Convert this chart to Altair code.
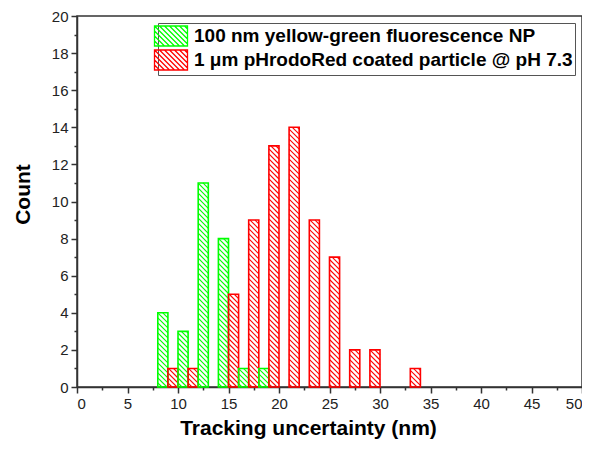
import altair as alt
import pandas as pd
import numpy as np

# ---- data ----
bin_left = [8, 10, 12, 14, 16, 18, 20, 22, 24, 26, 28, 30, 32]
green_counts = [4, 3, 11, 8, 1, 1, 0, 0, 0, 0, 0, 0, 0]
red_counts = [1, 1, 0, 5, 9, 13, 14, 9, 7, 2, 2, 0, 1]
series_names = ["100 nm yellow-green fluorescence NP",
                "1 \u03bcm pHrodoRed coated particle @ pH 7.3"]
series_colors = ["#00ff00", "#ff0000"]
x_tick_values = [i * 2.5 for i in range(21)]
y_tick_values = list(range(0, 21))

# ---- layout / style ----
W, H = 505, 371
X_MAX, Y_MAX = 50, 20
kx, ky = W / X_MAX, H / Y_MAX
HATCH = 5.0  # hatch spacing in px

rows = []
for left, g, r in zip(bin_left, green_counts, red_counts):
    for name, off, val in ((series_names[0], 0, g), (series_names[1], 1, r)):
        if val > 0:
            rows.append(dict(series=name, x0=left + off, x1=left + off + 1, count=val))
bars = pd.DataFrame(rows)

# hatch segments (45 deg, top-left to bottom-right) clipped to each bar
hatch_rows = []
for b in rows:
    u0, u1, h = b["x0"] * kx, b["x1"] * kx, b["count"] * ky
    c = np.floor(u0 / HATCH) * HATCH
    while c < u1 + h:
        us, ue = max(u0, c - h), min(u1, c)
        if ue - us > 0.6:
            hatch_rows.append(dict(series=b["series"],
                                   hx0=us / kx, hy0=(c - us) / ky,
                                   hx1=ue / kx, hy1=(c - ue) / ky))
        c += HATCH
hatch = pd.DataFrame(hatch_rows)

# legend symbol: hatched rectangle path
sx, sy, step = 1.65, 1.0, 0.5
parts = [f"M{-sx},{-sy}L{sx},{-sy}L{sx},{sy}L{-sx},{sy}Z"]
c = -sx - sy + step
while c < sx + sy:
    xs_, xe_ = max(-sx, c - sy), min(sx, c + sy)
    if xe_ - xs_ > 0.05:
        parts.append(f"M{xs_:.3f},{xs_ - c:.3f}L{xe_:.3f},{xe_ - c:.3f}")
    c += step
symbol_path = "".join(parts)

FONT = "Liberation Sans"
color_scale = alt.Scale(domain=series_names, range=series_colors)
xscale = alt.Scale(domain=[0, X_MAX], nice=False, zero=False)
yscale = alt.Scale(domain=[0, Y_MAX], nice=False, zero=False)

legend = alt.Legend(title=None, orient="top-right", offset=7,
                    symbolType=symbol_path, symbolSize=400, symbolStrokeWidth=1.3,
                    symbolFillColor="white",
                    labelFont=FONT, labelFontSize=19, labelFontWeight="bold",
                    labelColor="black", labelLimit=600, labelOffset=12,
                    strokeColor="#555", fillColor="white", padding=2, rowPadding=-3)

stroke_enc = alt.Stroke("series:N", scale=color_scale, legend=legend)

x_axis = alt.Axis(values=x_tick_values,
                  labelExpr="datum.value % 5 === 0 ? '' + datum.value : ''",
                  tickSize={"condition": {"test": "datum.value % 5 === 0", "value": 6}, "value": 3},
                  labelOverlap=False, grid=False, title="Tracking uncertainty (nm)",
                  titlePadding=6, titleX=231)
y_axis = alt.Axis(values=y_tick_values,
                  labelExpr="datum.value % 2 === 0 ? '' + datum.value : ''",
                  tickSize={"condition": {"test": "datum.value % 2 === 0", "value": 6}, "value": 3},
                  labelOverlap=False, grid=False, title="Count", titlePadding=18,
                  titleY=178)

hatch_layer = alt.Chart(hatch).mark_rule(strokeWidth=1.1).encode(
    x=alt.X("hx0:Q", scale=xscale, axis=x_axis),
    x2="hx1:Q",
    y=alt.Y("hy0:Q", scale=yscale, axis=y_axis),
    y2="hy1:Q",
    stroke=stroke_enc,
)

bar_layer = alt.Chart(bars).mark_rect(fill="transparent", strokeWidth=1.6).encode(
    x=alt.X("x0:Q", scale=xscale, axis=x_axis),
    x2="x1:Q",
    y=alt.Y("count:Q", scale=yscale, axis=y_axis),
    y2=alt.datum(0),
    stroke=stroke_enc,
)

chart = alt.layer(hatch_layer, bar_layer).properties(
    width=W, height=H,
    autosize=alt.AutoSizeParams(type="none"),
    padding={"left": 69, "top": 8, "right": 0, "bottom": 56},
).configure_view(stroke="#333", strokeWidth=1.5).configure_axis(
    domainColor="#333", domainWidth=1.5, tickColor="#333", tickWidth=1.5,
    labelFont=FONT, labelFontSize=15, labelColor="#222", labelPadding=3,
    titleFont=FONT, titleFontSize=21, titleFontWeight="bold", titleColor="black",
)

chart.save("out.html", embed_options={"renderer": "svg", "actions": False})
